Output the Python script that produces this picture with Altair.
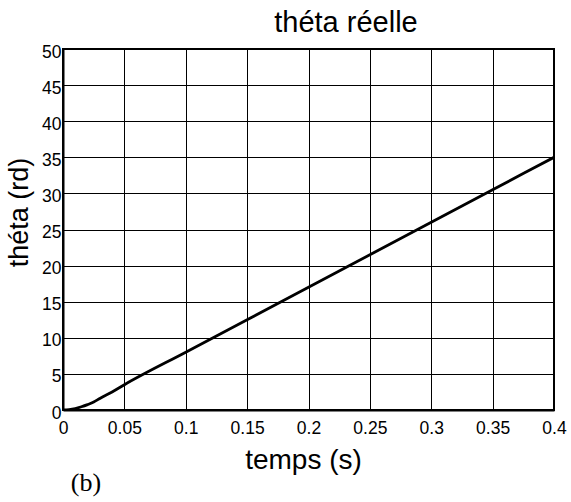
import altair as alt
import pandas as pd

# Data
temps = [0, 0.005, 0.01, 0.015, 0.02, 0.025, 0.03, 0.04, 0.05,
         0.1, 0.15, 0.2, 0.25, 0.3, 0.35, 0.4]
theta = [0, 0.05, 0.2, 0.45, 0.75, 1.1, 1.6, 2.5, 3.5,
         8.0, 12.5, 17.0, 21.5, 26.0, 30.5, 35.0]
x_ticks = [0, 0.05, 0.1, 0.15, 0.2, 0.25, 0.3, 0.35, 0.4]
y_ticks = [0, 5, 10, 15, 20, 25, 30, 35, 40, 45, 50]
title_text = ["théta réelle"]
annotation = ["(b)"]

df = pd.DataFrame({"temps": temps, "theta": theta})
FONT = "Liberation Sans"

line = alt.Chart(df).mark_line(color="black", strokeWidth=2.8, clip=True,
                               interpolate="monotone").encode(
    x=alt.X("temps:Q",
            scale=alt.Scale(domain=[0, 0.4], nice=False, zero=False),
            axis=alt.Axis(values=x_ticks, title="temps (s)", format="~g", grid=True,
                          gridColor="black", gridWidth=1, gridOpacity=1,
                          ticks=False, domain=True, domainColor="black", domainWidth=2,
                          labelFont=FONT, labelFontSize=17.5, labelColor="black",
                          labelPadding=9, labelFlush=False,
                          titleFont=FONT, titleFontSize=28, titleFontWeight="normal",
                          titleColor="black", titleX=240, titleY=58,
                          titleBaseline="alphabetic", titleAnchor="middle")),
    y=alt.Y("theta:Q",
            scale=alt.Scale(domain=[0, 50], nice=False, zero=False),
            axis=alt.Axis(values=y_ticks, title="théta (rd)", format="~g", grid=True,
                          gridColor="black", gridWidth=1, gridOpacity=1,
                          ticks=False, domain=True, domainColor="black", domainWidth=2,
                          labelFont=FONT, labelFontSize=17.5, labelColor="black",
                          labelPadding=2, labelOffset=3, labelFlush=False,
                          titleFont=FONT, titleFontSize=27, titleFontWeight="normal",
                          titleColor="black", titleX=-44, titleY=163,
                          titleBaseline="middle", titleAngle=270)),
)

title = alt.Chart(pd.DataFrame({"lab": title_text})).mark_text(
    font=FONT, fontSize=29, color="black", align="center", baseline="alphabetic"
).encode(text="lab:N", x=alt.value(283), y=alt.value(-17))

label_b = alt.Chart(pd.DataFrame({"lab": annotation})).mark_text(
    font="Liberation Serif", fontSize=26, color="black", align="center",
    baseline="alphabetic"
).encode(text="lab:N", x=alt.value(23), y=alt.value(442))

chart = alt.layer(line, title, label_b).properties(
    width=491, height=361,
    autosize=alt.AutoSizeParams(type="none"),
    padding={"left": 63, "top": 49, "right": 17, "bottom": 92},
    background="white",
).configure_view(stroke="black", strokeWidth=2)

chart.save("out.html", embed_options={"renderer": "svg", "actions": False})
